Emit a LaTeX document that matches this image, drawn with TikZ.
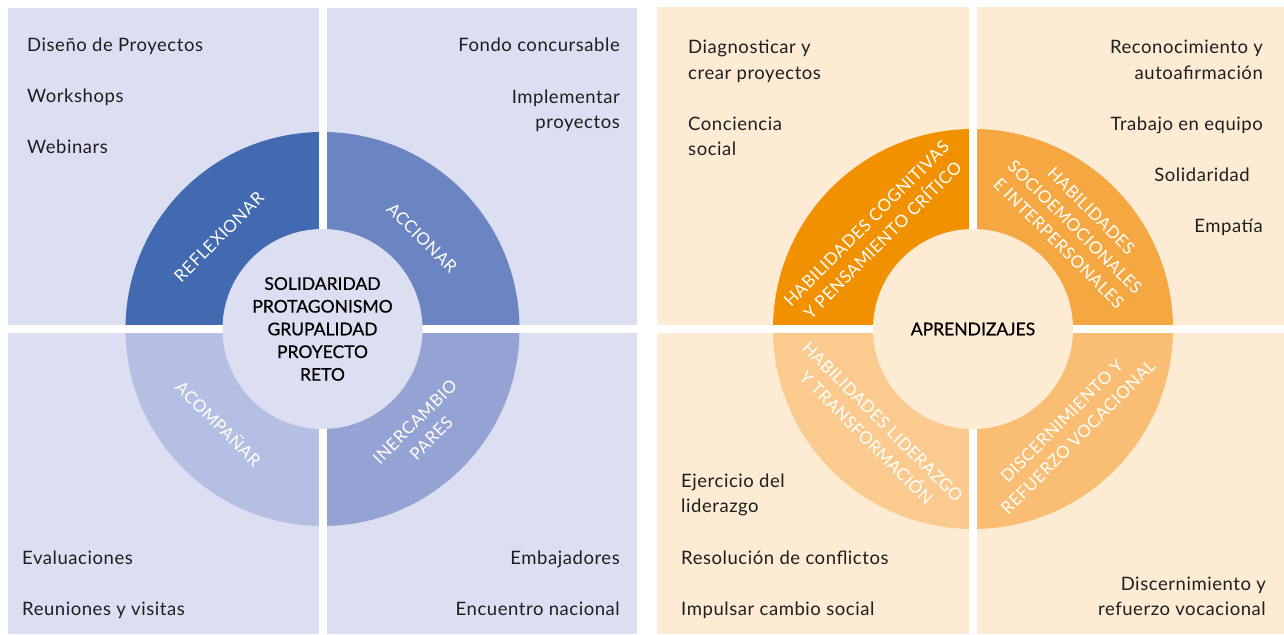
\documentclass[tikz,border=0pt]{standalone}
\usepackage{fontspec}
\setmainfont{Lato}
\definecolor{bgL}{RGB}{220,223,241}
\definecolor{bgR}{RGB}{253,235,212}
\definecolor{lA}{RGB}{66,106,176}
\definecolor{lB}{RGB}{107,132,194}
\definecolor{lC}{RGB}{148,163,211}
\definecolor{lD}{RGB}{181,191,227}
\definecolor{oA}{RGB}{242,145,0}
\definecolor{oB}{RGB}{245,168,66}
\definecolor{oC}{RGB}{249,190,115}
\definecolor{oD}{RGB}{251,202,142}
\definecolor{txt}{RGB}{30,30,30}
\begin{document}
\begin{tikzpicture}[x=1pt,y=-1pt,
  item/.style={font=\fontsize{18.5}{22}\selectfont\addfontfeatures{LetterSpace=3}, text=txt, inner sep=0pt},
  ringlbl/.style={font=\fontsize{17}{23}\selectfont\addfontfeatures{LetterSpace=3}, text=white, align=center, inner sep=0pt},
  core/.style={font=\fontsize{17.5}{22.7}\selectfont\addfontfeatures{FakeBold=0.6}, text=black, align=center, inner sep=0pt}]
\useasboundingbox[fill=white] (0,0) rectangle (1284,634);
% ---------- left panel ----------
\fill[bgL] (7.5,8) rectangle (637,634);
\begin{scope}\clip (100,100) rectangle (322.5,329); \fill[lA] (322.5,329) circle[radius=197]; \end{scope}
\begin{scope}\clip (322.5,100) rectangle (560,329); \fill[lB] (322.5,329) circle[radius=197]; \end{scope}
\begin{scope}\clip (322.5,329) rectangle (560,560); \fill[lC] (322.5,329) circle[radius=197]; \end{scope}
\begin{scope}\clip (100,329) rectangle (322.5,560); \fill[lD] (322.5,329) circle[radius=197]; \end{scope}
\fill[white] (318.5,8) rectangle (326.5,634);
\fill[white] (7.5,325) rectangle (637,333);
\fill[bgL] (322.5,329) circle[radius=100];
% ---------- right panel ----------
\fill[bgR] (657,7.5) rectangle (1284,634);
\begin{scope}\clip (750,100) rectangle (973,329); \fill[oA] (973,329) circle[radius=200]; \end{scope}
\begin{scope}\clip (973,100) rectangle (1200,329); \fill[oB] (973,329) circle[radius=200]; \end{scope}
\begin{scope}\clip (973,329) rectangle (1200,560); \fill[oC] (973,329) circle[radius=200]; \end{scope}
\begin{scope}\clip (750,329) rectangle (973,560); \fill[oD] (973,329) circle[radius=200]; \end{scope}
\fill[white] (969,7.5) rectangle (977,634);
\fill[white] (657,325) rectangle (1284,333);
\fill[bgR] (973,329) circle[radius=100];
% ---------- left centre and ring labels ----------
\node[core] (lcore) at (322.5,329) {SOLIDARIDAD\\PROTAGONISMO\\GRUPALIDAD\\PROYECTO\\RETO};
\node[ringlbl, rotate=45] (refl) at (219,237) {REFLEXIONAR};
\node[ringlbl, rotate=-45] (acci) at (422,238) {ACCIONAR};
\node[ringlbl, rotate=-45] (acom) at (219,423) {ACOMPAÑAR};
\node[ringlbl, rotate=45] (inter) at (423,430) {INERCAMBIO\\PARES};
% ---------- right centre and ring labels ----------
\node[core] (rcore) at (973,329) {APRENDIZAJES};
\node[ringlbl, rotate=45] (cogn) at (874.5,232) {HABILIDADES COGNITIVAS\\Y PENSAMIENTO CRÍTICO};
\node[ringlbl, rotate=-45] (socio) at (1075,227) {HABILIDADES\\SOCIOEMOCIONALES\\E INTERPERSONALES};
\node[ringlbl, rotate=-45] (lider) at (874.5,430) {HABILIDADES LIDERAZGO\\Y TRANSFORMACIÓN};
\node[ringlbl, rotate=45] (disc) at (1070,429) {DISCERNIMIENTO Y\\REFUERZO VOCACIONAL};
% ---------- left panel items ----------
\node[item, anchor=base west] (dp) at (27,52) {Diseño de Proyectos};
\node[item, anchor=base west] (ws) at (27,102) {Workshops};
\node[item, anchor=base west] (wb) at (27,153) {Webinars};
\node[item, anchor=base west] (ev) at (22,564) {Evaluaciones};
\node[item, anchor=base west] (rv) at (22,615) {Reuniones y visitas};
\node[item, anchor=base east] (fc) at (620,52) {Fondo concursable};
\node[item, anchor=base east] (imA) at (620,103) {Implementar};
\node[item, anchor=base east] (imB) at (620,128.5) {proyectos};
\node[item, anchor=base east] (em) at (620,564) {Embajadores};
\node[item, anchor=base east] (en) at (620,615) {Encuentro nacional};
% ---------- right panel items ----------
\node[item, anchor=base west] (dgA) at (688,54) {Diagnosticar y};
\node[item, anchor=base west] (dgB) at (688,79.5) {crear proyectos};
\node[item, anchor=base west] (csA) at (688,130) {Conciencia};
\node[item, anchor=base west] (csB) at (688,155.5) {social};
\node[item, anchor=base east] (rcA) at (1263,53) {Reconocimiento y};
\node[item, anchor=base east] (rcB) at (1263,79) {autoafirmación};
\node[item, anchor=base east] (te) at (1263,130) {Trabajo en equipo};
\node[item, anchor=base east] (so) at (1250,181) {Solidaridad};
\node[item, anchor=base east] (ep) at (1263,232) {Empatía};
\node[item, anchor=base west] (ejA) at (681,487) {Ejercicio del};
\node[item, anchor=base west] (ejB) at (681,512.5) {liderazgo};
\node[item, anchor=base west] (rc) at (681,564) {Resolución de conflictos};
\node[item, anchor=base west] (ic) at (681,615) {Impulsar cambio social};
\node[item, anchor=base east] (dvA) at (1266,590) {Discernimiento y};
\node[item, anchor=base east] (dvB) at (1266,615.5) {refuerzo vocacional};
\end{tikzpicture}
\end{document}
